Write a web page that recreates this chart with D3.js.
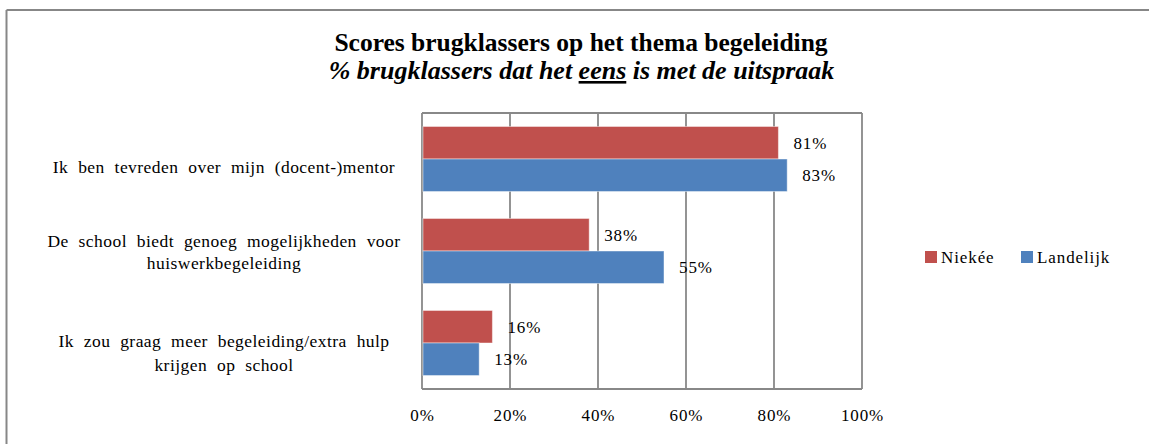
<!DOCTYPE html>
<html>
<head>
<meta charset="utf-8">
<script src="https://cdn.jsdelivr.net/npm/d3@7"></script>
<style>
  html, body { margin: 0; padding: 0; background: #fff; }
  svg { display: block; }
</style>
</head>
<body>
<svg id="chart" width="1149" height="444"></svg>
<script>
const categories = [
  ["Ik ben tevreden over mijn (docent-)mentor"],
  ["De school biedt genoeg mogelijkheden voor", "huiswerkbegeleiding"],
  ["Ik zou graag meer begeleiding/extra hulp", "krijgen op school"]
];
const seriesNames = ["Niekée", "Landelijk"];
const niekee = [81, 38, 16];
const landelijk = [83, 55, 13];
const tickValues = [0, 20, 40, 60, 80, 100];
const titleText = "Scores brugklassers op het thema begeleiding";
const subtitleParts = ["% brugklassers dat het ", "eens", " is met de uitspraak"];
const colors = ["#C0504D", "#4F81BD"];

const FONT = '"Liberation Serif", "Times New Roman", serif';
const svg = d3.select("#chart");
const W = 1149, H = 444;

function txt(sel) {
  return sel.style("font-family", FONT).style("fill", "#000");
}

// outer frame (left and top edges visible)
svg.append("line").attr("x1", 6.5).attr("x2", 6.5).attr("y1", 10).attr("y2", H)
  .attr("stroke", "#878787").attr("stroke-width", 2);
svg.append("line").attr("x1", 6.5).attr("x2", W).attr("y1", 10).attr("y2", 10)
  .attr("stroke", "#878787").attr("stroke-width", 2);

// title
txt(svg.append("text")).attr("x", 581).attr("y", 51).attr("text-anchor", "middle")
  .style("font-weight", "bold").style("font-size", "25.5px").text(titleText);
const sub = txt(svg.append("text")).attr("x", 581.5).attr("y", 79).attr("text-anchor", "middle")
  .style("font-style", "italic").style("font-weight", "bold").style("font-size", "26px");
sub.selectAll("tspan").data(subtitleParts).join("tspan")
  .style("text-decoration", (d, i) => i === 1 ? "underline" : null)
  .text(d => d);

const plot = { left: 422, right: 862, top: 113, bottom: 389 };
const x = d3.scaleLinear().domain([0, 100]).range([plot.left, plot.right]);
const catIdx = categories.map((c, i) => i);
const y0 = d3.scaleBand().domain(catIdx).range([plot.top, plot.bottom]).paddingInner(0.293).paddingOuter(0.1465);
const y1 = d3.scaleBand().domain(seriesNames).range([0, y0.bandwidth()]);

// gridlines
svg.append("g").selectAll("line").data(tickValues).join("line")
  .attr("x1", d => x(d)).attr("x2", d => x(d))
  .attr("y1", plot.top).attr("y2", plot.bottom)
  .attr("stroke", "#888").attr("stroke-width", 1.8);
svg.append("line").attr("x1", plot.left).attr("x2", plot.right).attr("y1", plot.top).attr("y2", plot.top)
  .attr("stroke", "#888").attr("stroke-width", 1.8);
svg.append("line").attr("x1", plot.left).attr("x2", plot.right).attr("y1", plot.bottom).attr("y2", plot.bottom)
  .attr("stroke", "#888").attr("stroke-width", 1.8);

// x-axis tick labels
const xAxis = d3.axisBottom(x).tickValues(tickValues).tickFormat(d => d + "%").tickSize(0).tickPadding(0);
const gx = svg.append("g").attr("transform", `translate(0,${plot.bottom})`).call(xAxis)
  .attr("font-family", null).attr("font-size", null);
gx.select(".domain").remove();
txt(gx.selectAll("text")).attr("dy", null).attr("y", 32)
  .style("font-size", "17px").style("letter-spacing", "0.9px");

// bars
const data = catIdx.map(i => [
  { cat: i, s: seriesNames[0], v: niekee[i] },
  { cat: i, s: seriesNames[1], v: landelijk[i] }
]);
const groups = svg.append("g").selectAll("g").data(data).join("g")
  .attr("transform", (d, i) => `translate(0,${y0(i)})`);
groups.selectAll("rect").data(d => d).join("rect")
  .attr("x", x(0) + 1)
  .attr("y", d => y1(d.s))
  .attr("width", d => x(d.v) - x(0) - 1)
  .attr("height", y1.bandwidth())
  .attr("fill", d => colors[seriesNames.indexOf(d.s)])
  .attr("stroke", "rgba(255,255,255,0.45)").attr("stroke-width", 1);
txt(groups.selectAll("text").data(d => d).join("text"))
  .attr("x", d => x(d.v) + 15)
  .attr("y", d => y1(d.s) + y1.bandwidth() / 2)
  .attr("dy", "0.35em")
  .style("font-size", "17px").style("letter-spacing", "0.9px")
  .text(d => d.v + "%");

// category labels
const catLines = [[173], [246.5, 269], [346.5, 371]];
const catG = svg.append("g");
categories.forEach((lines, i) => {
  lines.forEach((ln, j) => {
    txt(catG.append("text")).attr("x", 224).attr("y", catLines[i][j])
      .attr("text-anchor", "middle").style("font-size", "17.5px")
      .style("letter-spacing", "0.45px").style("word-spacing", "5px")
      .text(ln);
  });
});

// legend
const legX = [925, 1021];
const leg = svg.append("g").selectAll("g").data(seriesNames).join("g")
  .attr("transform", (d, i) => `translate(${legX[i]},251)`);
leg.append("rect").attr("width", 12).attr("height", 12).attr("fill", (d, i) => colors[i]);
txt(leg.append("text")).attr("x", 16).attr("y", 11.5).style("font-size", "17px")
  .style("letter-spacing", "0.9px").text(d => d);
</script>
</body>
</html>
